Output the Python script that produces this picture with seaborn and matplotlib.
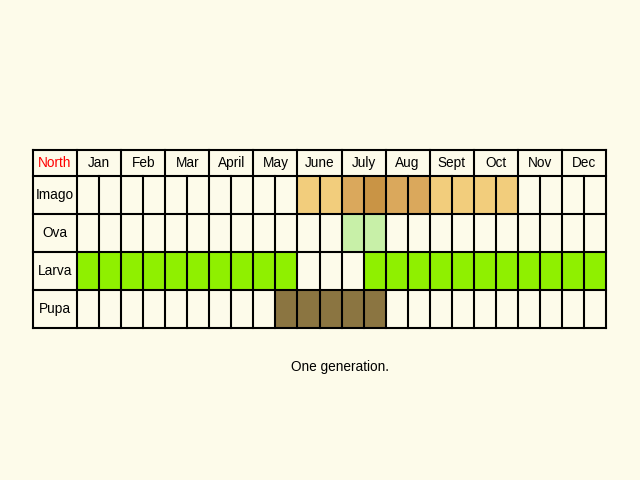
import matplotlib
matplotlib.use("Agg")
import matplotlib.pyplot as plt
from matplotlib.colors import ListedColormap
import seaborn as sns
import numpy as np

plt.rcParams["font.family"] = "Liberation Sans"
months = ["Jan","Feb","Mar","April","May","June","July","Aug","Sept","Oct","Nov","Dec"]
stages = ["Imago","Ova","Larva","Pupa"]
# codes per half-month: 0 none, 1 light imago, 2 medium imago, 3 dark imago, 4 ova, 5 larva, 6 pupa
imago = [0]*10 + [1,1,2,3,2,2,1,1,1,1] + [0]*4
ova   = [0]*12 + [4,4] + [0]*10
larva = [5]*10 + [0,0,0] + [5]*11
pupa  = [0]*9 + [6,6,6,6,6] + [0]*10
colors = ["#FDFBEA","#F2CD7C","#DAA85C","#C99445","#C8F0A8","#8FF000","#8B7541"]

bg = "#FDFBEA"
fig = plt.figure(figsize=(6.4,4.8), dpi=100, facecolor=bg)
ax = fig.add_axes([33/640, 1-328/480, 573/640, 178/480])
data = np.array([imago, ova, larva, pupa])
sns.heatmap(data, ax=ax, cmap=ListedColormap(colors), vmin=-0.5, vmax=6.5,
            cbar=False, linewidths=0, xticklabels=False, yticklabels=False)
hh = 26/38
ax.set_xlim(-2, 24)
ax.set_ylim(4, -hh)
ax.set_facecolor(bg)
ax.axis("off")
lw = 1.5
for y in [-hh, 0, 1, 2, 3, 4]:
    ax.plot([-2, 24], [y, y], color="black", lw=lw, clip_on=False, solid_capstyle="projecting")
for x in [-2] + list(range(0, 25, 2)):
    ax.plot([x, x], [-hh, 4], color="black", lw=lw, clip_on=False, solid_capstyle="projecting")
for x in range(1, 24, 2):
    ax.plot([x, x], [0, 4], color="black", lw=lw, clip_on=False)
fs = 9.8
ax.text(-1, -hh/2, "North", color="red", ha="center", va="center", fontsize=fs)
for i, m in enumerate(months):
    ax.text(2*i+1, -hh/2, m, ha="center", va="center", fontsize=fs)
for j, s in enumerate(stages):
    ax.text(-1, j+0.5, s, ha="center", va="center", fontsize=fs)
fig.text(340/640, 1-367/480, "One generation.", ha="center", va="center", fontsize=fs)
fig.savefig("out.png", dpi=100, facecolor=bg)
